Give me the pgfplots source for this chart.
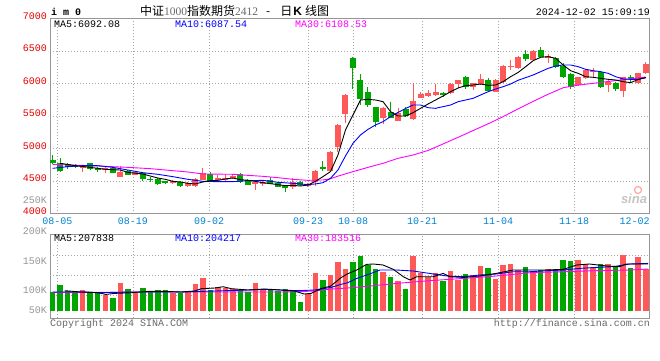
\documentclass[border=0pt]{standalone}
\usepackage{fontspec}
\setmainfont{Liberation Sans}
\setmonofont{Liberation Mono}
\newfontfamily\cjk{Noto Sans CJK SC}
\newfontfamily\serifd{Liberation Serif}
\usepackage{pgfplots}
\pgfplotsset{compat=1.18}
\usepackage{pgfplotstable}
\definecolor{kred}{RGB}{255,88,88}
\definecolor{kgreen}{RGB}{0,166,0}
\definecolor{tickred}{RGB}{230,0,0}
\definecolor{dateblue}{RGB}{0,130,210}
\definecolor{gridc}{RGB}{165,165,165}
\definecolor{framec}{RGB}{150,150,150}
\definecolor{vgray}{RGB}{150,150,150}
\definecolor{ttlgray}{RGB}{105,105,105}
\definecolor{maBlue}{RGB}{0,0,255}
\definecolor{maMag}{RGB}{255,0,255}
\newcommand{\mono}{\ttfamily\fontsize{10}{12}\selectfont}

\pgfplotstableread{
j o h l c
4 4695 4746 4644 4731
7 4680 4721 4628 4695
9 4567 4731 4567 4644
11 4597 4644 4587 4633
16 4479 4515 4454 4494
18 4428 4479 4413 4464
19 4423 4541 4413 4531
20 4515 4695 4510 4618
22 4510 4592 4490 4551
23 4526 4603 4490 4541
24 4541 4603 4531 4577
27 4464 4490 4361 4480
28 4464 4505 4428 4490
32 4413 4541 4372 4480
34 4428 4474 4413 4454
35 4490 4670 4423 4654
37 4659 4962 4649 4951
38 5018 5377 4951 5362
39 5526 5839 5387 5823
44 5464 5633 5377 5618
46 5428 5618 5418 5541
48 5449 6013 5438 5736
49 5782 5874 5772 5838
50 5813 5900 5797 5859
51 5823 5992 5813 5874
53 5849 6003 5838 5992
54 5992 6054 5926 6054
56 5951 6013 5900 6003
57 5992 6146 5977 6064
59 5874 6064 5864 6054
60 6028 6285 6013 6269
61 6259 6361 6208 6274
62 6233 6423 6223 6413
64 6362 6515 6351 6500
66 6405 6454 6310 6418
70 5977 6105 5961 6095
71 6080 6218 6069 6208
72 6180 6233 6105 6192
74 5977 6054 5874 6028
76 5885 6105 5792 6100
78 6003 6156 5992 6156
79 6156 6336 6146 6300
}\redk

\pgfplotstableread{
j o h l c
0 4823 4900 4762 4772
1 4772 4849 4644 4659
2 4762 4772 4680 4721
3 4746 4762 4695 4721
5 4772 4782 4675 4680
6 4695 4710 4644 4669
8 4695 4705 4618 4628
10 4659 4669 4587 4597
12 4628 4644 4505 4531
13 4531 4567 4490 4516
14 4536 4546 4438 4459
15 4495 4505 4449 4474
17 4485 4495 4413 4428
21 4603 4633 4495 4505
25 4603 4618 4464 4480
26 4515 4526 4433 4444
29 4515 4556 4449 4459
30 4474 4485 4403 4413
31 4420 4438 4336 4405
33 4490 4500 4428 4438
36 4721 4808 4659 4680
40 6387 6403 5910 6233
41 6054 6146 5669 5756
42 5869 5941 5633 5669
43 5633 5644 5336 5413
45 5567 5721 5464 5474
47 5602 5644 5490 5500
52 5859 5869 5797 5828
55 6095 6120 5910 5951
58 6054 6079 5869 5890
63 6454 6515 6351 6377
65 6515 6556 6387 6413
67 6387 6413 6233 6259
68 6269 6310 6080 6105
69 6146 6156 5910 5951
73 6172 6197 5926 5951
75 6003 6028 5890 5910
77 6095 6131 6028 6064
}\greenk

\pgfplotstableread{
j v
4 20.7
7 15.7
9 28
11 18
16 18
18 19
19 27
20 32.7
22 23.3
23 22.7
24 21.3
27 28
28 20.7
34 16.7
35 37.3
37 36
38 48.7
39 41.7
44 38.7
46 29.7
48 54.7
49 37.7
50 33.7
51 37.3
53 39.7
54 30.7
56 35.7
57 44.7
59 31.7
60 45.7
61 46.7
62 40.7
64 38.7
66 41.7
70 50.7
71 46.7
72 43.7
74 46.7
76 55.7
78 53.7
79 41.7
}\redv

\pgfplotstableread{
j v
0 19
1 25.7
2 20
3 19
5 18
6 17.3
8 13
10 21.7
12 22.7
13 19
14 20.7
15 20.7
17 17.3
21 20.7
25 20.7
26 19
29 20.7
30 19.7
31 21.7
32 20.7
33 9
36 30.7
40 48.7
41 54.7
42 45.7
43 41.7
45 33.7
47 21.7
52 29.7
55 36.7
58 42.7
63 43.7
65 40.7
67 41.7
68 50.7
69 49.7
73 46.7
75 43.7
77 42.7
}\greenv

\pgfplotsset{
  kaxis/.style={
    anchor=south west, scale only axis, width=599.5pt,
    xmin=-0.36, xmax=79.5,
    xtick={0.61,10.69,20.85,34.03,40.03,49.2,59.33,69.45,79.5},
    major tick length=0pt,
    axis line style={framec, line width=1pt},
    grid style={gridc, line width=0.8pt, dash pattern=on 1pt off 2pt},
    ticklabel style={font=\mono},
  },
  vline/.style 2 args={draw=none, mark=none, error bars/.cd, y dir=both, y explicit, error mark=none, error bar style={draw=#1, solid, line width=#2}},
}

\begin{document}
\begin{tikzpicture}
\fill[white] (0,0) rectangle (660pt,360pt);
\path[use as bounding box] (0,0) rectangle (660pt,360pt);

% ---------- price panel ----------
\begin{axis}[kaxis,
  at={(50pt,146.5pt)}, height=195pt,
  ymin=4000, ymax=7000,
  xticklabels={08-05,08-19,09-02,09-23,10-08,10-21,11-04,11-18,\llap{12-02}},
  ytick={4000,4500,5000,5500,6000,6500,7000},
  yticklabels={4000,4500,5000,5500,6000,6500,7000},
  grid=major,
  xticklabel style={text=dateblue, anchor=north, inner sep=0pt, yshift=-4pt},
  yticklabel style={text=tickred, anchor=east, inner sep=0pt, xshift=-3pt, yshift=2.5pt},
]
\addplot[vline={kred}{1pt}] table[x=j, y expr={(\thisrow{h}+\thisrow{l})/2}, y error expr={(\thisrow{h}-\thisrow{l})/2}]{\redk};
\addplot[vline={kgreen}{1pt}] table[x=j, y expr={(\thisrow{h}+\thisrow{l})/2}, y error expr={(\thisrow{h}-\thisrow{l})/2}]{\greenk};
\addplot[vline={kred}{6pt}] table[x=j, y expr={(\thisrow{o}+\thisrow{c})/2}, y error expr={max(abs(\thisrow{c}-\thisrow{o})/2,8)}]{\redk};
\addplot[vline={kgreen}{6pt}] table[x=j, y expr={(\thisrow{o}+\thisrow{c})/2}, y error expr={max(abs(\thisrow{c}-\thisrow{o})/2,8)}]{\greenk};

% MA30
\addplot[maMag, line width=0.9pt, mark=none] coordinates {(0,4756)(5,4736)(10,4710)(13,4690)(15,4669)(18,4639)(20,4608)(24,4603)(26,4587)(28,4572)(30,4551)(32,4526)(34,4510)(36,4516)(37,4535)(38,4575)(40,4644)(42,4710)(44,4772)(46,4849)(48,4900)(50,4970)(52,5070)(54,5172)(56,5276)(58,5380)(60,5490)(62,5610)(64,5725)(66,5835)(68,5935)(70,5975)(72,6003)(75,6045)(79,6100)};
% MA10
\addplot[maBlue, line width=0.9pt, mark=none] coordinates {(0,4695)(2,4721)(4,4736)(6,4736)(8,4710)(10,4669)(12,4628)(14,4603)(16,4567)(18,4526)(20,4495)(22,4490)(24,4490)(26,4505)(28,4510)(30,4480)(32,4464)(34,4444)(35,4455)(36,4474)(37,4541)(38,4669)(39,4885)(40,5080)(41,5208)(42,5295)(43,5362)(44,5413)(45,5490)(46,5555)(47,5615)(48,5669)(49,5669)(50,5628)(51,5618)(52,5644)(53,5669)(54,5720)(55,5746)(56,5772)(57,5823)(58,5874)(59,5915)(60,5951)(61,5992)(62,6050)(63,6090)(64,6131)(65,6182)(66,6233)(67,6269)(68,6285)(69,6285)(70,6259)(71,6218)(72,6197)(73,6182)(74,6156)(75,6105)(76,6069)(77,6064)(78,6064)(79,6088)};
% MA5
\addplot[black, line width=0.9pt, mark=none] coordinates {(1,4772)(3,4736)(5,4710)(7,4680)(9,4669)(10,4633)(12,4608)(13,4577)(14,4546)(15,4526)(16,4495)(17,4485)(18,4464)(19,4454)(20,4485)(21,4505)(22,4510)(23,4531)(24,4546)(25,4521)(26,4510)(27,4495)(28,4474)(29,4459)(30,4444)(31,4428)(32,4433)(33,4423)(34,4438)(35,4495)(36,4567)(37,4644)(38,4900)(39,5285)(40,5515)(41,5746)(42,5756)(43,5746)(44,5721)(45,5567)(46,5500)(47,5500)(48,5551)(49,5618)(50,5685)(51,5746)(52,5808)(53,5874)(54,5931)(55,5967)(56,5977)(57,5992)(58,5972)(59,5977)(60,6028)(61,6105)(62,6170)(63,6259)(64,6351)(65,6403)(66,6413)(67,6387)(68,6285)(69,6197)(70,6156)(71,6105)(72,6095)(73,6079)(74,6064)(75,6054)(76,6028)(77,6013)(78,6064)(79,6092)};
\end{axis}

% ---------- volume panel ----------
\begin{axis}[kaxis,
  at={(50pt,41.7pt)}, height=83.6pt,
  ymin=-7.6, ymax=76,
  xticklabels={},
  xmajorgrids=true, ymajorgrids=false,
  ytick={0.7,20.7,49}, yticklabels={50K,100K,150K},
  extra y ticks={15.7,35.7,55.7}, extra y tick labels={},
  extra y tick style={grid=major},
  yticklabel style={text=vgray, anchor=east, inner sep=0pt, xshift=-3pt},
]
\addplot[vline={kred}{5.5pt}] table[x=j, y expr={\thisrow{v}/2}, y error expr={\thisrow{v}/2}]{\redv};
\addplot[vline={kgreen}{5.5pt}] table[x=j, y expr={\thisrow{v}/2}, y error expr={\thisrow{v}/2}]{\greenv};
% vol MA30
\addplot[maMag, line width=0.9pt, mark=none] coordinates {(0,18.3)(8.2,18.3)(10.5,18.7)(30.4,18.7)(32.6,19)(34.9,19.7)(37.1,21.7)(39.3,22.7)(41.4,24)(45.8,27.3)(50.2,30)(54.7,32.3)(59.1,34.7)(63.6,38)(68,39)(72.4,40)(76.9,40.7)(79.3,41.7)};
% vol MA10
\addplot[maBlue, line width=0.9pt, mark=none] coordinates {(0,18.7)(4.4,18.7)(6,18)(10.5,18.7)(17.1,18.7)(21.6,19.7)(26,20.7)(28.2,21.3)(30.4,20.7)(32.6,20)(34.9,20.7)(37.1,23.3)(38.4,26.3)(39.3,28)(40.5,32.3)(42.2,36.7)(43.6,40.7)(45.8,40.7)(48,39.7)(50.2,37.3)(52.5,34.7)(54.7,34)(56.9,35.7)(59.1,36.7)(61.3,39)(63.6,39)(65.8,40)(68,40.7)(70.2,42.3)(72.4,43.3)(74.6,44)(76.9,46.7)(79.3,47.3)};
% vol MA5
\addplot[black, line width=0.9pt, mark=none] coordinates {(1.6,20)(3.8,18.7)(6,18)(7.1,16.3)(8.2,17.3)(10.5,18)(12.7,19.3)(15,19.3)(17.1,18.7)(18.9,19.7)(19.8,22)(21.6,22.7)(22.7,24)(23.8,22)(26,20.7)(28.2,21.7)(30.4,20.7)(32.2,19.7)(33.5,16.7)(34.4,17.3)(35.8,22.3)(37,24.5)(38.4,33)(39.3,37)(40.5,40.7)(41.8,46.3)(42.7,46.7)(44,45.7)(45.4,41.3)(46.7,34)(47.6,30.7)(48.5,34)(50.7,34)(52,37.3)(52.9,34)(54.7,33.3)(56.9,34.7)(59.1,37.3)(61.3,40.7)(63.6,40.7)(65.8,40.7)(68,41.3)(69.8,45.7)(71.5,46.7)(73.8,44.7)(75.5,44)(76.4,46.7)(79.3,46.7)};
\end{axis}

% ---------- texts ----------
\node[anchor=west, inner sep=0pt, font=\ttfamily\bfseries\fontsize{10}{12}\selectfont] at (51pt,348.5pt) {i m 0};
\node[anchor=west, inner sep=0pt] at (140pt,349pt) {\cjk\fontsize{12}{14}\selectfont 中证{\serifd\fontsize{11.5}{14}\selectfont\color{ttlgray}1000}指数期货{\serifd\fontsize{11.5}{14}\selectfont\color{ttlgray}2412}\hspace{8pt}-\hspace{10pt}日\hspace{1pt}{\rmfamily\bfseries K}\hspace{3pt}线图};
\node[anchor=east, inner sep=0pt, font=\mono] at (650pt,348pt) {2024-12-02 15:09:19};

\node[anchor=west, inner sep=0pt, font=\mono] at (54pt,336pt) {MA5:6092.08};
\node[anchor=west, inner sep=0pt, font=\mono, text=maBlue] at (175pt,336pt) {MA10:6087.54};
\node[anchor=west, inner sep=0pt, font=\mono, text=maMag] at (295pt,336pt) {MA30:6108.53};

\node[anchor=west, inner sep=0pt, font=\mono] at (54pt,121.7pt) {MA5:207838};
\node[anchor=west, inner sep=0pt, font=\mono, text=maBlue] at (175pt,121.7pt) {MA10:204217};
\node[anchor=west, inner sep=0pt, font=\mono, text=maMag] at (295pt,121.7pt) {MA30:183516};

\node[anchor=east, inner sep=0pt, font=\mono, text=vgray] at (47pt,160pt) {250K};
\node[anchor=east, inner sep=0pt, font=\mono, text=vgray] at (47pt,128.7pt) {200K};

\node[anchor=west, inner sep=0pt, font=\mono, text=ttlgray] at (50pt,36.5pt) {Copyright 2024 SINA.COM};
\node[anchor=east, inner sep=0pt, font=\mono, text=ttlgray] at (650pt,36.5pt) {http://finance.sina.com.cn};

\draw[red!35, line width=1.2pt] (638pt,170pt) circle (3.5pt);
\node[inner sep=0pt, font=\rmfamily\bfseries\itshape\fontsize{13}{13}\selectfont, text=gray!45] at (634pt,161pt) {sina};
\end{tikzpicture}
\end{document}
